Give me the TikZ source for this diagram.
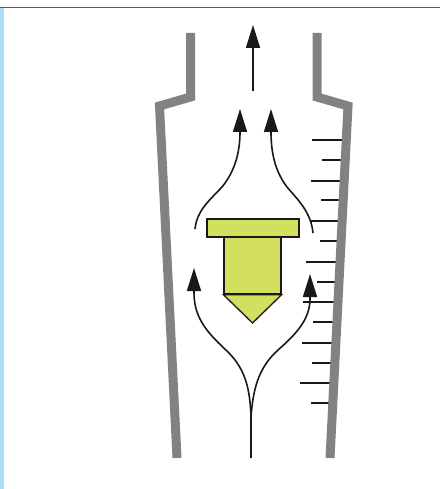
\documentclass[tikz,border=0pt]{standalone}
\usetikzlibrary{arrows.meta}
\definecolor{wallgray}{RGB}{128,130,133}
\definecolor{floatlime}{RGB}{210,223,95}
\definecolor{edgeblue}{RGB}{172,219,245}
\definecolor{rulegray}{RGB}{90,90,92}
\tikzset{
  wall/.style={draw=wallgray, line width=9pt, line join=miter, line cap=butt},
  flow/.style={draw=black!90, line width=1.6pt, -{Triangle[length=23pt,width=14pt]}},
  flowplain/.style={draw=black!90, line width=1.6pt},
  tick/.style={draw=black!90, line width=1.6pt},
  floatpart/.style={draw=black!90, fill=floatlime, line width=1.3pt, line join=miter},
}
\begin{document}
\begin{tikzpicture}[x=1pt, y=-1pt]
\useasboundingbox (0,0) rectangle (440,489);
% page frame: rule at the top, blue strip on the left
\fill[edgeblue] (0,8) rectangle (4,489);
\draw[rulegray, line width=1.8pt] (0,7.5) -- (440,7.5);

% scale ticks on the right wall (drawn first, the wall covers their ends)
\foreach \yy/\xl in {140/312,160/322,181/311,200/321,221/310,241/320,262/306,
                     282/317,302/303,322/313,343/302,363/312,383/300,403/311}{
  \pgfmathsetmacro{\xr}{348-0.0511*(\yy-106)}
  \draw[tick] (\xl,\yy) -- (\xr,\yy);
}

% tapered tube walls
\coordinate (lt) at (190.5,33);
\coordinate (ls) at (190.5,97);
\coordinate (lw) at (159.5,106);
\coordinate (lb) at (177,458);
\coordinate (rt) at (317,33);
\coordinate (rs) at (317,97);
\coordinate (rw) at (348,106);
\coordinate (rb) at (330,458);
\draw[wall] (lt) -- (ls) -- (lw) -- (lb);
\draw[wall] (rt) -- (rs) -- (rw) -- (rb);

% float
\node[floatpart, draw, minimum width=92pt, minimum height=18pt, inner sep=0pt]
  (plate) at (253,228) {};
\node[floatpart, draw, minimum width=57pt, minimum height=57pt, inner sep=0pt]
  (body) at (252.5,265.5) {};
\coordinate (tip) at (252.5,323);
\draw[floatpart] (body.south west) -- (body.south east) -- (tip) -- cycle;

% flow lines
\coordinate (inlet) at (251,458);
\coordinate (split) at (251,417);
\coordinate (la0) at (194,293);
\coordinate (la1) at (194,268);
\coordinate (ra0) at (310,299);
\coordinate (ra1) at (310,274);
\draw[flowplain] (inlet) -- (split);
\draw[flowplain] (split) .. controls (250,390) and (246,370) .. (228,352)
  .. controls (210,335) and (194,320) .. (la0);
\draw[flow] (la0) -- (la1);
\draw[flowplain] (split) .. controls (253,390) and (258,368) .. (278,350)
  .. controls (295,335) and (310,320) .. (ra0);
\draw[flow] (ra0) -- (ra1);

\coordinate (ul0) at (195,229);
\coordinate (ul1) at (240,109);
\coordinate (ur0) at (313,233);
\coordinate (ur1) at (271,109);
\draw[flow] (ul0) .. controls (197,210) and (210,200) .. (222,187)
  .. controls (236,170) and (240,150) .. (ul1);
\draw[flow] (ur0) .. controls (311,212) and (298,200) .. (287,187)
  .. controls (274,170) and (271,150) .. (ur1);

\coordinate (out0) at (253,91);
\coordinate (out1) at (253,25);
\draw[flow] (out0) -- (out1);
\end{tikzpicture}
\end{document}
